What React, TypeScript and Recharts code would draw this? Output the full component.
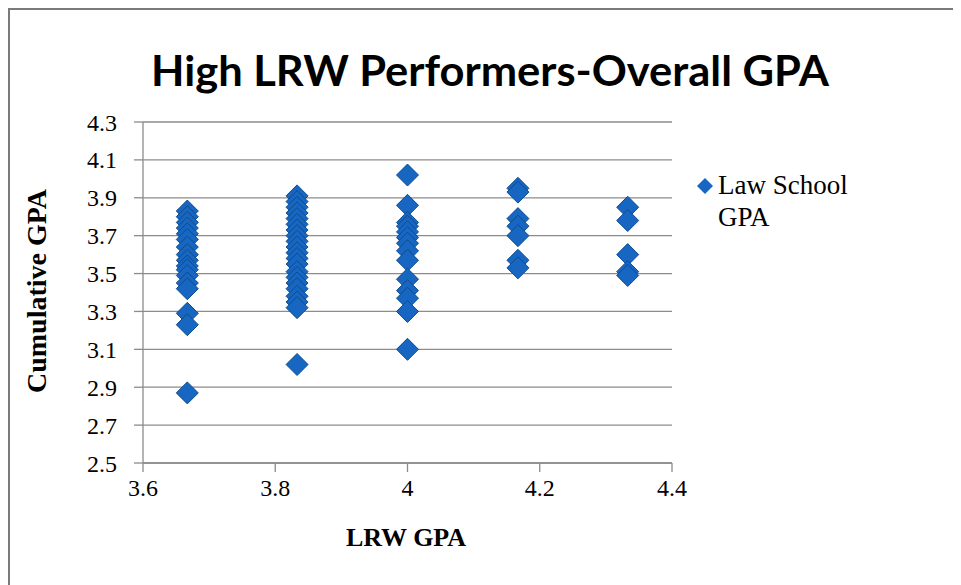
import React from "react";
import { ScatterChart, Scatter, XAxis, YAxis, CartesianGrid } from "recharts";

const title = "High LRW Performers-Overall GPA";
const legendLines = ["Law School", "GPA"];
const xLabel = "LRW GPA";
const yLabel = "Cumulative GPA";

const lrwGpaLevels = [3.667, 3.833, 4.0, 4.167, 4.333];
const gpaAt3667 = [3.83, 3.80, 3.77, 3.74, 3.71, 3.68, 3.64, 3.60, 3.57, 3.54, 3.52, 3.49, 3.45, 3.42, 3.29, 3.23, 2.87];
const gpaAt3833 = [3.91, 3.88, 3.85, 3.82, 3.79, 3.76, 3.73, 3.70, 3.67, 3.64, 3.61, 3.58, 3.55, 3.51, 3.48, 3.45, 3.42, 3.38, 3.35, 3.32, 3.02];
const gpaAt4000 = [4.02, 3.86, 3.77, 3.75, 3.72, 3.69, 3.66, 3.62, 3.57, 3.47, 3.41, 3.37, 3.30, 3.10];
const gpaAt4167 = [3.95, 3.93, 3.79, 3.75, 3.70, 3.57, 3.53];
const gpaAt4333 = [3.85, 3.78, 3.60, 3.51, 3.49];

const xTicks = [3.6, 3.8, 4.0, 4.2, 4.4];
const yTicks = [2.5, 2.7, 2.9, 3.1, 3.3, 3.5, 3.7, 3.9, 4.1, 4.3];

const columns = [gpaAt3667, gpaAt3833, gpaAt4000, gpaAt4167, gpaAt4333];
const data = columns.flatMap((col, i) => col.map((g) => ({ lrw: lrwGpaLevels[i], gpa: g })));

const FILL = "#1766c2";
const STROKE = "#0e4c8f";
const GRID = "#8c8c8c";
const serif = "'Liberation Serif', 'DejaVu Serif', serif";

const css = `
.gpa-chart .recharts-cartesian-axis-tick-value,
.gpa-chart .recharts-cartesian-axis-tick-value tspan {
  fill: #000 !important;
  font-family: 'Liberation Serif', 'DejaVu Serif', serif !important;
  font-size: 24px !important;
}
`;

const Diamond = (props: any) => {
  const { cx, cy } = props;
  if (cx == null || cy == null) return null;
  const r = 11;
  return (
    <polygon
      points={`${cx},${cy - r} ${cx + r},${cy} ${cx},${cy + r} ${cx - r},${cy}`}
      fill={FILL}
      stroke={STROKE}
      strokeWidth={1}
    />
  );
};

const fmtX = (v: number) => (Math.abs(v - 4) < 1e-9 ? "4" : v.toFixed(1));
const fmtY = (v: number) => v.toFixed(1);

export default function App() {
  return (
    <div className="gpa-chart" style={{ position: "relative", width: 953, height: 577, fontFamily: serif, fontSize: 24 }}>
      <style>{css}</style>
      <div
        style={{
          position: "absolute",
          left: 0,
          top: 0,
          width: 953,
          height: 577,
          borderTop: "2px solid #7a7a7a",
          borderLeft: "2px solid #7a7a7a",
          boxSizing: "border-box",
        }}
      />
      <div style={{ position: "absolute", left: 0, top: 0 }}>
        <ScatterChart
          width={945}
          height={569}
          margin={{ top: 114, right: 281, bottom: 54, left: 75 }}
        >
          <text
            x={482}
            y={78}
            textAnchor="middle"
            fontFamily="Lato, 'Open Sans', sans-serif"
            fontWeight="bold"
            fontSize={42}
            textLength={678}
            lengthAdjust="spacingAndGlyphs"
            fill="#000"
          >
            {title}
          </text>
          <CartesianGrid horizontal vertical={false} stroke={GRID} strokeWidth={1.3} />
          <XAxis
            type="number"
            dataKey="lrw"
            domain={[3.6, 4.4]}
            ticks={xTicks}
            interval={0}
            height={60}
            tickLine={{ stroke: GRID, strokeWidth: 1.3 }}
            axisLine={{ stroke: GRID, strokeWidth: 1.3 }}
            tickSize={9}
            tickMargin={7}
            tickFormatter={fmtX}
          />
          <YAxis
            type="number"
            dataKey="gpa"
            domain={[2.5, 4.3]}
            ticks={yTicks}
            interval={0}
            width={60}
            tickLine={{ stroke: GRID, strokeWidth: 1.3 }}
            axisLine={{ stroke: GRID, strokeWidth: 1.3 }}
            tickSize={9}
            tickMargin={17}
            tickFormatter={fmtY}
          />
          <text
            x={398}
            y={538}
            textAnchor="middle"
            fontFamily={serif}
            fontWeight="bold"
            fontSize={26}
            fill="#000"
          >
            {xLabel}
          </text>
          <text
            x={38}
            y={283}
            textAnchor="middle"
            transform="rotate(-90 38 283)"
            fontFamily={serif}
            fontWeight="bold"
            fontSize={28}
            fill="#000"
          >
            {yLabel}
          </text>
          <g>
            <polygon points="697,170 705,178 697,186 689,178" fill={FILL} />
            <text x={710} y={186} fontFamily={serif} fontSize={27} fill="#000">
              {legendLines[0]}
            </text>
            <text x={710} y={218} fontFamily={serif} fontSize={27} fill="#000">
              {legendLines[1]}
            </text>
          </g>
          <Scatter
            name={legendLines.join(" ")}
            data={data}
            fill={FILL}
            shape={Diamond}
            isAnimationActive={false}
          />
        </ScatterChart>
      </div>
    </div>
  );
}
